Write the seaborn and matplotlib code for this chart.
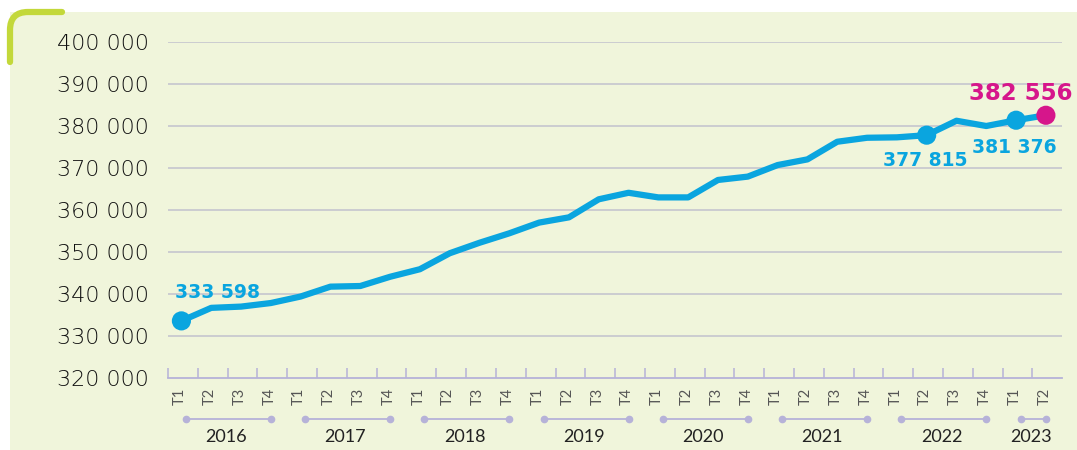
import matplotlib
matplotlib.use("Agg")
import matplotlib.pyplot as plt
import matplotlib.patches as mpatches
from matplotlib.path import Path
import seaborn as sns
import pandas as pd
import numpy as np

years = ["2016", "2017", "2018", "2019", "2020", "2021", "2022", "2023"]
quarters = ["T1", "T2", "T3", "T4"] * 7 + ["T1", "T2"]
values = [333598, 336700, 337000, 337850, 339400, 341750, 341900, 344100,
          345900, 349700, 352200, 354450, 357000, 358250, 362550, 364100,
          363000, 363000, 367150, 367950, 370700, 372050, 376250, 377200,
          377300, 377815, 381250, 380000, 381376, 382556]
highlight_idx = [0, 25, 28]
highlight_labels = ["333 598", "377 815", "381 376"]
last_label = "382 556"
yticks = [320000, 330000, 340000, 350000, 360000, 370000, 380000, 390000, 400000]
ytick_labels = ["320 000", "330 000", "340 000", "350 000", "360 000",
                "370 000", "380 000", "390 000", "400 000"]

BG = "#f0f5db"
BLUE = "#0aa5df"
MAGENTA = "#d6168b"
LAV = "#b6b2d8"
GRID = "#c9c9cf"
LIME = "#c3d83a"

sns.set_theme(style="white")
plt.rcParams['font.family'] = ['Lato', 'DejaVu Sans']

df = pd.DataFrame({"i": np.arange(len(values)), "v": values})

fig = plt.figure(figsize=(10.77, 4.5), dpi=100)
fig.patch.set_facecolor("white")
W, H = 1077, 450
# green panel
fig.patches.append(mpatches.Rectangle((10/W, 0), 1, 1 - 12/H, transform=fig.transFigure,
                                      facecolor=BG, edgecolor="none", zorder=-5))
# lime corner bracket
verts = [(10/W, 1 - 62/H), (10/W, 1 - 30/H), (10/W, 1 - 12/H), (28/W, 1 - 12/H), (62/W, 1 - 12/H)]
codes = [Path.MOVETO, Path.LINETO, Path.CURVE3, Path.CURVE3, Path.LINETO]
fig.patches.append(mpatches.PathPatch(Path(verts, codes), transform=fig.transFigure,
                                      facecolor="none", edgecolor=LIME, lw=4.5,
                                      capstyle="round", zorder=-4))

ax = fig.add_axes([168/W, 1 - 378/H, (1062 - 168)/W, (378 - 42)/H])
ax.set_zorder(2)
ax.patch.set_alpha(0)

sns.lineplot(data=df, x="i", y="v", ax=ax, color=BLUE, lw=4.5, zorder=3)
hl = df.iloc[highlight_idx]
sns.scatterplot(data=hl, x="i", y="v", ax=ax, color=BLUE, s=190, edgecolor="none", zorder=4)
sns.scatterplot(data=df.iloc[[-1]], x="i", y="v", ax=ax, color=MAGENTA, s=190,
                edgecolor="none", zorder=5)

ax.set_xlim(-0.44, len(values) - 1 + 0.54)
ax.set_ylim(320000, 400000)
ax.set_yticks(yticks)
ax.set_yticklabels(ytick_labels, fontsize=16, color="#111111",
                   family=["DejaVu Sans"], fontweight=200)
ax.tick_params(axis="y", length=0, pad=14)
for y in yticks[1:]:
    ax.axhline(y, color=GRID, lw=1.3, zorder=1)

for s in ["top", "right", "left"]:
    ax.spines[s].set_visible(False)
ax.spines["bottom"].set_color(LAV)
ax.spines["bottom"].set_linewidth(1.3)
ax.set_xticks(np.arange(len(values)) - 0.45)
ax.set_xticklabels([])
ax.tick_params(axis="x", direction="in", length=7, width=1.1, color=LAV, bottom=True)
ax.set_xlabel("")
ax.set_ylabel("")

# quarter labels
trans = ax.get_xaxis_transform()
for i, q in enumerate(quarters):
    ax.text(i - 0.05, -0.03, q, rotation=90, ha="center", va="top", fontsize=10.5,
            color="#555555", transform=trans, clip_on=False)

# year brackets
start = 0
for y in years:
    n = 2 if y == "2023" else 4
    x0, x1 = start, start + n - 1
    ax.plot([x0 + 0.15, x1], [-0.122, -0.122], color=LAV, lw=1.3, transform=trans,
            clip_on=False, marker="o", markersize=4.5, markevery=[0, 1])
    ax.text((x0 + x1) / 2, -0.175, y, ha="center", va="center", fontsize=13,
            color="#222222", transform=trans, clip_on=False)
    start += n

# annotations
afont = ["DejaVu Sans"]
ax.annotate(highlight_labels[0], (0, values[0]), xytext=(-4.5, 16.5), textcoords="offset points",
            ha="left", va="baseline", fontsize=13.5, fontweight="bold", color=BLUE, family=afont)
ax.annotate(highlight_labels[1], (25, values[25]), xytext=(-1, -22), textcoords="offset points",
            ha="center", va="baseline", fontsize=13.5, fontweight="bold", color=BLUE, family=afont)
ax.annotate(highlight_labels[2], (28, values[28]), xytext=(-1.5, -23.5), textcoords="offset points",
            ha="center", va="baseline", fontsize=13.5, fontweight="bold", color=BLUE, family=afont)
ax.annotate(last_label, (29, values[-1]), xytext=(-18, 11), textcoords="offset points",
            ha="center", va="baseline", fontsize=16.5, fontweight="bold", color=MAGENTA,
            family=afont, annotation_clip=False)

fig.savefig("out.png", dpi=100, facecolor=fig.get_facecolor())
